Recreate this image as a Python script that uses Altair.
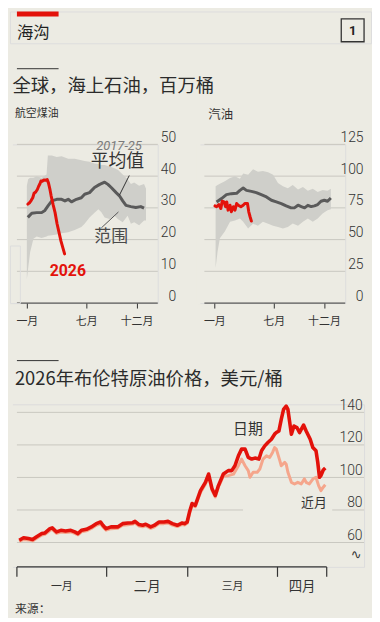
import altair as alt
import pandas as pd

BG = '#ecebe3'
RED = '#e3120b'
PINK = '#f5a68c'
BAND = '#cfcfca'
MEAN = '#5a5a5a'
GRID = '#c8c7c0'
INK = '#333333'
CJK = 'Noto Sans CJK SC'
NUM = 'Roboto'

# ---------------- data ----------------
# jet fuel on water, million barrels (day of year)
jet_band_days = [0, 4, 10, 20, 30, 45, 60, 64, 76, 91, 106, 126, 146, 166, 176, 191, 206, 218, 227,
                 237, 252, 267, 277, 292, 307, 317, 327, 342, 357, 363]
jet_band_low = [7.5, 11, 16, 20.3, 21, 20.5, 21, 21.2, 21.4, 21.6, 22, 22.3, 23, 24, 25, 27, 28.5, 29.6,
                28.6, 27, 26.5, 27.5, 26.5, 25.5, 27.5, 25, 25.5, 24.5, 26, 26]
jet_band_high = [37, 39, 39.5, 39.5, 40, 39.5, 40.5, 46.5, 46.5, 46, 46.3, 45.5, 45.5, 45, 44.8, 44.5, 44,
                 43.8, 43.5, 43.5, 43, 42.5, 42, 40.5, 39, 37.5, 38, 37, 37.5, 36]
jet_mean_days = [3, 15, 30, 45, 55, 65, 76, 91, 106, 116, 126, 136, 151, 166, 176, 191, 206, 222, 237,
                 247, 257, 272, 282, 292, 302, 317, 332, 347, 357]
jet_mean = [27, 28.3, 28.5, 28.5, 29.2, 30.7, 32.2, 32.7, 32.7, 32.2, 32.7, 31.9, 32.7, 33.2, 34.3, 34.8,
            36.4, 37.4, 38.1, 37.4, 36.4, 34.8, 33.8, 32.2, 30.8, 30.4, 30.1, 30.4, 29.9]
jet_2026_days = [3, 8, 13, 18, 22, 27, 32, 36, 40, 43, 47, 52, 57, 62, 66, 70, 74, 80, 86, 92, 98, 104,
                 110, 115]
jet_2026 = [31.2, 31.6, 32.3, 33.2, 34.6, 35.0, 35.8, 36.8, 37.6, 38.5, 38.4, 38.8, 38.7, 38.9, 37.8,
            36.0, 33.8, 31.0, 28.5, 25.0, 22.3, 19.5, 17.3, 15.5]

# gasoline on water, million barrels
gas_band_days = [4, 10, 17, 32, 48, 63, 78, 88, 103, 118, 133, 148, 164, 179, 194, 209, 224, 239, 255,
                 270, 285, 300, 315, 330, 345, 355]
gas_band_low = [27.6, 40.6, 51, 56.3, 64, 65, 66.6, 64, 58.8, 62.5, 61, 64, 62.5, 61, 60, 58.8, 60, 62.7,
                61, 64, 66.6, 64, 66.6, 70.6, 73.2, 74]
gas_band_high = [92, 93, 94, 96, 98.5, 100, 98, 102, 101, 105.5, 103.5, 104, 103, 101, 94.5, 92, 90.5,
                 93, 89.5, 91.5, 88.5, 90, 87.5, 89, 88.5, 90]
gas_mean_days = [7, 22, 37, 52, 68, 78, 88, 98, 113, 128, 143, 159, 174, 189, 204, 219, 234, 244, 255,
                 265, 275, 285, 295, 305, 315, 325, 335, 345, 355]
gas_mean = [79.7, 82.3, 85.4, 86.2, 86.5, 88.8, 90.6, 88.8, 88, 87, 85.4, 83.6, 81, 79.7, 78.4, 76.6, 75,
            75, 77.1, 76, 75, 77, 76, 76.6, 77.6, 80.2, 81, 80.2, 82.8]
gas_2026_days = [2, 7, 14, 20, 24, 30, 34, 38, 42, 48, 52, 58, 63, 68, 73, 81, 88, 93, 101, 105, 109, 113]
gas_2026 = [76.6, 75.9, 77.6, 74.5, 80.2, 79.7, 75.9, 79.7, 73.2, 77.1, 71.9, 75.9, 73.2, 78.4, 77.1, 75.9,
            77.1, 78.4, 78.4, 71.9, 68.0, 64.6]

top_month_ticks = [0, 181, 334]
top_month_labels = ['一月', '七月', '十二月']
jet_ticks = [0, 10, 20, 30, 40, 50]
gas_ticks = [0, 25, 50, 75, 100, 125]

# Brent 2026, $/barrel (days since January 1st)
dated_days = [0.8, 2.3, 4.0, 5.4, 6.8, 8.6, 9.7, 11.4, 12.2, 13.7, 15.2, 16.8, 18.6, 20.0, 21.1, 22.3,
              24.0, 25.7, 27.4, 28.9, 29.7, 30.8, 32.5, 34.8, 36.5, 38.3, 40.0, 40.8, 42.2, 43.4, 44.5,
              46.2, 47.4, 49.1, 50.8, 52.2, 53.7, 55.4, 57.1, 57.9, 58.8, 59.6, 60.5, 61.6, 63.4, 65.1,
              66.2, 67.4, 68.5, 69.6, 71.3, 73.0, 74.2, 75.3, 76.5, 77.6, 78.8, 79.9, 81.1, 82.2, 83.6,
              84.5, 85.6, 86.7, 87.9, 89.0, 89.6, 90.5, 91.3, 92.1, 93.0, 93.6, 94.8, 95.7, 96.7, 97.6,
              99.0, 99.9, 101.3, 102.2, 103.3, 103.9, 104.5, 105.0, 105.8, 106.5]
dated = [61.4, 62.9, 62.4, 61.8, 63.5, 65.5, 65.9, 68.5, 69.0, 66.5, 67.5, 67.1, 67.5, 66.5, 65.5, 67.5,
         68.1, 69.6, 71.6, 72.6, 70.6, 68.5, 69.6, 69.6, 71.6, 72.0, 72.2, 73.0, 71.0, 70.6, 71.2,
         69.6, 70.5, 72.6, 72.6, 73.0, 71.6, 70.6, 72.0, 71.6, 72.6, 78.7, 84.0, 82.8, 91.9, 97.0,
         102.1, 93.0, 88.9, 95.0, 102.1, 104.2, 104.2, 107.2, 113.3, 117.4, 117.4, 112.3, 111.3, 111.9,
         111.3, 116.4, 119.4, 121.5, 123.5, 126.6, 127.6, 128.6, 135.7, 141.8, 143.8, 141.8, 126.6,
         131.6, 130.7, 127.6, 132.2, 128.6, 123.5, 118.4, 116.4, 109.3, 100.1, 101.1, 104.6, 105.8]
front_days = [0.8, 2.3, 4.0, 5.4, 6.8, 8.6, 9.7, 11.4, 12.2, 13.7, 15.2, 16.8, 18.6, 20.0, 21.1, 22.3,
              24.0, 25.7, 27.4, 28.9, 29.7, 30.8, 32.5, 34.8, 36.5, 38.3, 40.0, 40.8, 42.2, 43.4, 44.5,
              46.2, 47.4, 49.1, 50.8, 52.2, 53.7, 55.4, 57.1, 57.9, 58.8, 59.6, 60.5, 61.6, 63.4, 65.1,
              66.2, 67.4, 68.5, 69.6, 71.3, 73.0, 74.8, 76.5, 77.6, 78.8, 79.9, 80.5, 81.6, 83.0, 83.9,
              85.0, 86.2, 87.3, 88.3, 89.0, 89.6, 90.8, 91.3, 92.5, 93.0, 93.6, 94.8, 95.9, 97.0, 98.2,
              99.3, 99.9, 101.0, 102.2, 103.3, 104.2, 105.0, 105.8, 106.5]
front = [60.6, 61.9, 61.6, 61.0, 62.6, 64.6, 65.0, 67.4, 68.0, 65.6, 66.4, 66.2, 66.5, 65.6, 64.7, 66.6,
         67.2, 68.6, 70.6, 71.5, 69.6, 67.6, 68.5, 68.7, 70.6, 70.9, 71.3, 72.0, 70.1, 69.7, 70.3,
         68.7, 69.5, 71.6, 71.6, 72.0, 70.7, 69.8, 71.1, 70.8, 71.8, 77.5, 83.0, 82.0, 90.8, 95.8,
         100.5, 92.0, 88.0, 94.0, 100.8, 101.1, 102.0, 107.2, 111.3, 107.2, 104.2, 100.1, 103.2, 103.2,
         105.2, 111.3, 113.3, 112.3, 115.4, 118.4, 117.4, 110.3, 107.2, 109.3, 108.2, 103.2, 97.0,
         96.0, 97.0, 96.0, 99.1, 97.0, 96.0, 99.0, 100.1, 95.0, 91.9, 94.0, 95.5]
brent_ticks = [60, 80, 100, 120, 140]
brent_month_edges = [0, 31, 59, 90, 107]
brent_month_mid = [15.5, 45, 74.5, 98.5]
brent_month_labels = ['一月', '二月', '三月', '四月']

one = pd.DataFrame({'a': [0]})

LEFT = 7          # inset of the plotting area inside each view, px
TOP_W = 149       # view width of the small panels
BR_W = 357        # view width of the Brent panel


def label_expr(values, labels):
    expr = "''"
    for v, l in reversed(list(zip(values, labels))):
        expr = f"datum.value == {v} ? '{l}' : {expr}"
    return expr


def grid_rules(ticks, Y, width):
    return alt.Chart(pd.DataFrame({'v': ticks})).mark_rule(color=GRID, strokeWidth=1).encode(
        y=Y, x=alt.value(LEFT), x2=alt.value(width))


def edge_cover(h):
    # hides a faint seam along the left edge of each view
    return alt.Chart(one).mark_rect(color=BG).encode(
        x=alt.value(-1), x2=alt.value(3), y=alt.value(-1), y2=alt.value(h + 1))


def top_panel(band_days, band_lo, band_hi, mean_days, mean_vals, cur_days, cur_vals, y_ticks, extra=()):
    xs = alt.Scale(domain=[-51.35, 398.8], nice=False, zero=False)
    ys = alt.Scale(domain=[y_ticks[0], y_ticks[-1]], nice=False, zero=False)
    xaxis = alt.Axis(values=top_month_ticks, labelExpr=label_expr(top_month_ticks, top_month_labels),
                     grid=False, domain=False, tickColor=INK, tickSize=5, tickWidth=1,
                     labelFont=CJK, labelFontSize=11, labelColor=INK, labelPadding=8, title=None)
    yaxis = alt.Axis(orient='right', values=y_ticks, grid=False, domain=False,
                     ticks=False, tickSize=0, labelAlign='right', labelPadding=18, labelBaseline='bottom',
                     labelFont=NUM, labelFontSize=14, labelFontWeight=300, labelColor=INK, title=None)
    X = alt.X('day:Q', scale=xs, axis=xaxis)
    Y = alt.Y('v:Q', scale=ys, axis=yaxis)
    grid = grid_rules(y_ticks[1:], Y, TOP_W)
    base_line = alt.Chart(pd.DataFrame({'v': [y_ticks[0]]})).mark_rule(color=INK, strokeWidth=1).encode(
        y=Y, x=alt.value(LEFT), x2=alt.value(TOP_W))
    band = alt.Chart(pd.DataFrame({'day': band_days, 'v': band_lo, 'hi': band_hi})).mark_area(
        color=BAND, opacity=1).encode(x=X, y=Y, y2='hi:Q')
    mean_line = alt.Chart(pd.DataFrame({'day': mean_days, 'v': mean_vals})).mark_line(
        color=MEAN, strokeWidth=3, strokeJoin='round').encode(x=X, y=Y)
    cur_line = alt.Chart(pd.DataFrame({'day': cur_days, 'v': cur_vals})).mark_line(
        color=RED, strokeWidth=3, strokeJoin='round', strokeCap='round').encode(x=X, y=Y)
    layers = [grid, band, mean_line, cur_line, base_line]
    for kind, df, props in extra:
        if kind == 'text':
            layers.append(alt.Chart(df).mark_text(**props).encode(x=X, y=Y))
        else:
            layers.append(alt.Chart(df).mark_rule(**props).encode(x=X, x2='day2:Q', y=Y, y2='v2:Q'))
    layers.append(edge_cover(160))
    return alt.layer(*layers).properties(width=TOP_W, height=160)


jet_extra = [
    ('text', pd.DataFrame({'day': [281], 'v': [49.6]}),
     dict(text='2017-25', font=NUM, fontSize=13, fontStyle='italic', color='#7a7a7a', align='center',
          baseline='middle')),
    ('text', pd.DataFrame({'day': [276], 'v': [44.5]}),
     dict(text='平均值', font=CJK, fontSize=18, color=INK, align='center', baseline='middle')),
    ('rule', pd.DataFrame({'day': [312], 'v': [40.2], 'day2': [282], 'v2': [34.0]}),
     dict(color=INK, strokeWidth=1)),
    ('rule', pd.DataFrame({'day': [227], 'v': [23.7], 'day2': [279], 'v2': [28.7]}),
     dict(color='#555555', strokeWidth=1)),
    ('text', pd.DataFrame({'day': [257], 'v': [20.9]}),
     dict(text='范围', font=CJK, fontSize=17, color='#4a4a4a', align='center', baseline='middle')),
    ('text', pd.DataFrame({'day': [125], 'v': [10.0]}),
     dict(text='2026', font=NUM, fontSize=16, fontWeight='bold', color=RED, align='center',
          baseline='middle')),
]

p1 = top_panel(jet_band_days, jet_band_low, jet_band_high, jet_mean_days, jet_mean, jet_2026_days,
               jet_2026, jet_ticks, jet_extra)
p2 = top_panel(gas_band_days, gas_band_low, gas_band_high, gas_mean_days, gas_mean, gas_2026_days,
               gas_2026, gas_ticks)


def spacer(w, h):
    return alt.Chart(one).mark_text(text='').encode(x=alt.value(0), y=alt.value(0)).properties(
        width=w, height=h)


# ---------------- header ----------------
hb = alt.Chart(one)
header = alt.layer(
    hb.mark_rect(color=RED).encode(x=alt.value(7), x2=alt.value(49), y=alt.value(0), y2=alt.value(5)),
    hb.mark_text(text='海沟', font=CJK, fontSize=16.5, color='#1f1f1f', align='left', baseline='middle'
                 ).encode(x=alt.value(7), y=alt.value(21.5)),
    hb.mark_rect(fillOpacity=0, stroke=INK, strokeWidth=1.3).encode(
        x=alt.value(334), x2=alt.value(357), y=alt.value(7.5), y2=alt.value(30.5)),
    hb.mark_text(text='1', font=NUM, fontSize=13, fontWeight='bold', color='#222222', align='center',
                 baseline='middle').encode(x=alt.value(345.5), y=alt.value(19.5)),
    hb.mark_rule(color=INK, strokeWidth=1).encode(x=alt.value(7), x2=alt.value(49), y=alt.value(57.7)),
    hb.mark_text(text='全球，海上石油，百万桶', font=CJK, fontSize=18.5, color='#2b2b2b', align='left',
                 baseline='middle').encode(x=alt.value(2.5), y=alt.value(75)),
    hb.mark_text(text='航空煤油', font=CJK, fontSize=11, color=INK, align='left', baseline='middle'
                 ).encode(x=alt.value(5), y=alt.value(103.5)),
    hb.mark_text(text='汽油', font=CJK, fontSize=12.5, color=INK, align='left', baseline='middle'
                 ).encode(x=alt.value(200), y=alt.value(104)),
).properties(width=364, height=32)

# ---------------- Brent ----------------
bxs = alt.Scale(domain=[-2.39, 119.9], nice=False, zero=False)
bys = alt.Scale(domain=[45, 145], nice=False, zero=False)
byaxis = alt.Axis(orient='right', values=brent_ticks, grid=False, domain=False,
                  ticks=False, tickSize=0, labelAlign='right', labelPadding=-2, labelBaseline='bottom',
                  labelFont=NUM, labelFontSize=14, labelFontWeight=300, labelColor=INK, title=None)
BX = alt.X('day:Q', scale=bxs, axis=None)
BY = alt.Y('v:Q', scale=bys, axis=byaxis)

bgrid = grid_rules(brent_ticks, BY, BR_W)
mask = alt.Chart(pd.DataFrame({'day': [78.1], 'day2': [108.9], 'v': [79.0], 'v2': [81.0]})).mark_rect(
    color=BG).encode(x=BX, x2='day2:Q', y=BY, y2='v2:Q')
front_line = alt.Chart(pd.DataFrame({'day': front_days, 'v': front})).mark_line(
    color=PINK, strokeWidth=3, strokeJoin='round').encode(x=BX, y=BY)
dated_line = alt.Chart(pd.DataFrame({'day': dated_days, 'v': dated})).mark_line(
    color=RED, strokeWidth=3.6, strokeJoin='round').encode(x=BX, y=BY)
axis_line = alt.Chart(pd.DataFrame({'day': [brent_month_edges[0]], 'day2': [brent_month_edges[-1]],
                                    'v': [45]})).mark_rule(color=INK, strokeWidth=1.2).encode(
    x=BX, x2='day2:Q', y=BY)
axis_ticks = alt.Chart(pd.DataFrame({'day': brent_month_edges})).mark_rule(color=INK, strokeWidth=1.2).encode(
    x=BX, y=alt.value(164), y2=alt.value(174))
month_text = alt.Chart(pd.DataFrame({'day': brent_month_mid, 'm': brent_month_labels})).mark_text(
    font=CJK, color=INK, baseline='middle', align='center').encode(
    x=BX, y=alt.value(184), text='m:N',
    size=alt.condition(alt.FieldOneOfPredicate(field='m', oneOf=['二月', '四月']), alt.value(13.5),
                       alt.value(11)))
lbl_dated = alt.Chart(pd.DataFrame({'day': [79.8], 'v': [129.8]})).mark_text(
    text='日期', font=CJK, fontSize=15, color=INK, align='center', baseline='middle').encode(x=BX, y=BY)
lbl_front = alt.Chart(pd.DataFrame({'day': [102.6], 'v': [84.0]})).mark_text(
    text='近月', font=CJK, fontSize=13, color=INK, align='center', baseline='middle').encode(x=BX, y=BY)
bb = alt.Chart(one)
brent_deco = [
    bb.mark_rule(color=INK, strokeWidth=1).encode(x=alt.value(7), x2=alt.value(49), y=alt.value(-44)),
    bb.mark_text(text='2026年布伦特原油价格，美元/桶', font=CJK, fontSize=18.5, color='#2b2b2b',
                 align='left', baseline='middle').encode(x=alt.value(5), y=alt.value(-25)),
    bb.mark_text(text='∿', font='DejaVu Sans', fontSize=13, color=INK, align='center',
                 baseline='middle').encode(x=alt.value(349), y=alt.value(152)),
    bb.mark_text(text='来源：', font=CJK, fontSize=12, color=INK, align='left',
                 baseline='middle').encode(x=alt.value(5), y=alt.value(206)),
]
brent = alt.layer(bgrid, mask, front_line, dated_line, axis_line, axis_ticks, month_text, lbl_dated,
                  lbl_front, *brent_deco, edge_cover(164)).properties(width=BR_W, height=164)

row2 = alt.hconcat(p1, p2, spacing=40, bounds='flush')
# the nested row of panels counts as zero height in the flush layout, so a spacer row keeps the gap
gap_row = spacer(10, 58)

chart = alt.vconcat(header, row2, gap_row, brent, spacing=102, bounds='flush').properties(
    padding=0, background=BG
).configure_view(strokeWidth=0, strokeOpacity=0, stroke='transparent', fill=BG).configure(font=CJK)

chart.save("out.html", embed_options={"renderer": "svg", "actions": False})
